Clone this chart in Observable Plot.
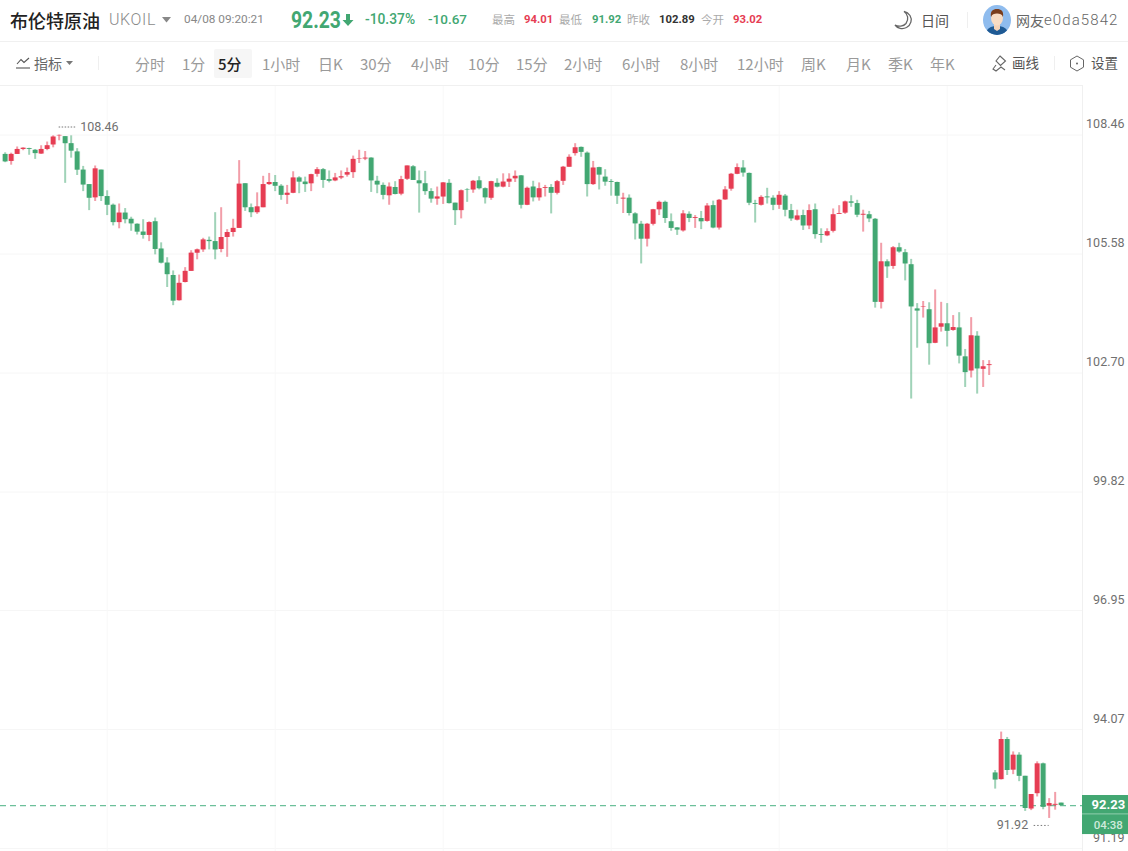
<!DOCTYPE html>
<html lang="zh">
<head>
<meta charset="utf-8">
<script src="https://cdn.jsdelivr.net/npm/d3@7"></script>
<script src="https://cdn.jsdelivr.net/npm/@observablehq/plot@0.6"></script>
<style>
html,body{margin:0;padding:0;background:#fff;overflow:hidden;width:1128px;height:851px}
#head{position:relative;height:85px;width:1128px;font-family:"Noto Sans CJK SC","Noto Sans",sans-serif;overflow:hidden}
#head span{position:absolute;white-space:nowrap;line-height:1;transform:translateY(-50%)}
#head .num{font-family:Roboto,sans-serif}
#head .line{position:absolute;left:0;width:1128px;height:1px;background:#f0f0f0}
#head .sep{position:absolute;width:1px;background:#efefef}
#head svg{position:absolute}
#head .tab{font-size:15px;color:#9a9a9a;top:63px}
#head .lab{font-size:11.5px;color:#aaa;top:20px}
#head .val{font-family:Roboto,sans-serif;font-size:11.3px;font-weight:700;top:20px}
#chart{display:block;height:766px}
</style>
</head>
<body>
<div id="head"></div>
<div id="chart"></div>
<script>
const opens = [
107.99,107.82,107.99,108.11,108.13,108.09,108.00,108.11,108.22,108.44,
108.42,108.25,108.05,107.61,107.26,106.94,107.61,106.97,106.76,106.34,
106.57,106.42,106.30,106.11,106.03,106.36,105.70,105.36,105.06,104.45,
104.89,105.16,105.60,105.68,105.91,105.88,105.69,105.98,106.10,106.20,
107.28,106.70,106.58,106.70,107.26,107.31,107.22,107.00,107.05,107.42,
107.32,107.28,107.51,107.62,107.38,107.35,107.42,107.49,107.55,107.88,
107.88,107.90,107.34,107.24,106.99,107.19,107.03,107.39,107.69,107.35,
107.28,107.09,106.91,106.96,107.29,106.81,106.63,107.13,107.13,107.35,
107.16,106.93,107.29,107.20,107.32,107.40,107.47,106.76,107.20,106.94,
107.17,107.19,107.05,107.34,107.68,108.01,108.16,108.02,107.26,107.67,
107.44,107.33,107.31,106.91,106.93,106.55,106.30,105.94,106.30,106.65,
106.83,106.36,106.21,106.14,106.54,106.44,106.44,106.37,106.75,106.21,
106.89,107.15,107.51,107.66,107.53,106.80,106.76,106.96,106.93,106.76,
106.98,106.63,106.40,106.51,106.26,106.65,106.05,106.02,106.13,106.54,
106.57,106.84,106.80,106.52,106.53,106.42,104.41,105.39,105.28,105.73,
105.61,105.32,104.25,104.29,104.23,103.42,103.81,103.89,103.73,103.79,
103.09,102.75,103.59,102.79,102.88,93.02,92.86,93.83,93.09,93.45,
92.94,92.15,92.52,93.24,92.22,92.24,92.29];
const closes = [
107.81,107.99,108.11,108.14,108.11,108.01,108.11,108.20,108.41,108.45,
108.25,108.07,107.61,107.25,106.93,107.64,106.97,106.76,106.34,106.57,
106.41,106.31,106.11,106.03,106.34,105.69,105.36,105.08,104.44,104.87,
105.16,105.60,105.68,105.92,105.88,105.68,105.98,106.10,106.20,107.27,
106.70,106.58,106.72,107.26,107.31,107.22,107.00,107.05,107.42,107.32,
107.26,107.50,107.62,107.36,107.34,107.42,107.45,107.55,107.87,107.89,
107.90,107.35,107.25,107.00,107.20,107.02,107.38,107.71,107.36,107.28,
107.09,106.91,106.96,107.30,106.80,106.63,107.11,107.12,107.34,107.16,
106.94,107.33,107.20,107.32,107.39,107.46,106.76,107.17,106.94,107.16,
107.19,107.05,107.33,107.68,107.92,108.15,108.04,107.26,107.66,107.49,
107.32,107.31,106.98,106.93,106.56,106.31,105.94,106.30,106.65,106.83,
106.44,106.20,106.16,106.55,106.44,106.46,106.36,106.74,106.21,106.88,
107.13,107.51,107.67,107.54,106.81,106.78,106.95,106.94,106.76,107.00,
106.64,106.43,106.50,106.26,106.63,106.05,106.03,106.12,106.53,106.56,
106.84,106.81,106.52,106.54,106.43,104.41,105.39,105.27,105.73,105.63,
105.34,104.30,104.20,104.30,103.41,103.79,103.89,103.71,103.80,103.11,
102.71,103.60,102.80,102.85,102.90,92.85,93.83,93.08,93.45,92.94,
92.16,92.50,93.24,92.19,92.28,92.26,92.23];
const highs = [
108.03,108.02,108.17,108.15,108.14,108.11,108.20,108.29,108.44,108.46,
108.42,108.44,108.13,107.70,107.26,107.71,107.61,107.11,106.79,106.79,
106.68,106.47,106.31,106.41,106.36,106.45,105.85,105.49,105.17,105.07,
105.25,105.66,105.70,105.96,105.99,106.58,106.70,106.17,106.42,107.84,
107.28,106.79,107.06,107.46,107.53,107.48,107.26,107.24,107.57,107.45,
107.44,107.51,107.67,107.65,107.59,107.53,107.59,107.66,107.95,108.09,
108.06,107.91,107.46,107.30,107.30,107.33,107.46,107.71,107.72,107.59,
107.58,107.16,107.20,107.31,107.38,106.81,107.13,107.16,107.36,107.45,
107.18,107.34,107.40,107.52,107.52,107.59,107.48,107.20,107.34,107.30,
107.24,107.26,107.36,107.70,107.98,108.25,108.17,108.05,107.82,107.68,
107.62,107.38,107.32,107.05,107.01,106.58,106.37,106.32,106.66,106.86,
106.86,106.55,106.22,106.63,106.60,106.51,106.61,106.80,106.86,106.90,
107.21,107.53,107.76,107.84,107.54,106.88,106.99,107.17,106.99,107.09,
107.02,106.78,106.64,106.64,106.77,106.79,106.19,106.19,106.67,106.75,
106.86,106.99,106.88,106.64,106.61,106.44,105.84,105.44,105.76,105.84,
105.69,105.45,104.38,104.43,104.40,104.71,104.41,104.38,104.09,104.16,
103.27,104.04,103.70,103.00,103.00,93.08,94.01,93.88,93.53,93.51,
92.94,92.50,93.29,93.26,92.40,92.55,92.29];
const lows = [
107.79,107.73,107.99,108.08,107.97,107.87,107.99,108.08,108.15,108.32,
107.29,107.90,107.48,107.09,106.63,106.85,106.85,106.51,106.26,106.19,
106.31,106.13,106.04,105.94,105.88,105.56,105.34,104.77,104.33,104.44,
104.88,105.16,105.44,105.62,105.68,105.44,105.61,105.50,105.99,106.20,
106.61,106.46,106.54,106.70,107.24,107.09,106.88,106.78,107.04,107.04,
107.07,107.09,107.44,107.17,107.30,107.33,107.38,107.44,107.41,107.77,
107.84,107.07,107.04,106.89,106.76,107.01,106.99,107.36,107.36,106.57,
107.00,106.81,106.76,106.78,106.79,106.27,106.43,106.83,107.05,107.13,
106.79,106.88,107.18,107.18,107.19,107.31,106.67,106.75,106.84,106.86,
106.96,106.55,107.01,107.24,107.68,107.95,107.92,106.96,107.24,107.13,
107.22,106.98,106.78,106.56,106.50,105.92,105.34,105.75,106.26,106.51,
106.32,106.13,106.03,106.11,106.34,106.20,106.17,106.35,106.19,106.16,
106.88,107.10,107.50,107.44,106.75,106.33,106.74,106.79,106.63,106.66,
106.48,106.37,106.38,106.15,106.17,105.94,105.84,106.00,106.09,106.54,
106.54,106.71,106.46,106.11,106.34,104.27,104.25,104.99,105.21,105.60,
104.93,102.07,103.30,104.03,102.89,103.41,103.69,103.33,103.71,102.92,
102.35,102.58,102.19,102.35,102.64,92.63,92.85,92.96,92.98,92.81,
92.09,92.11,92.44,92.13,91.92,92.12,92.23];

const yTicks = [108.46,105.58,102.70,99.82,96.95,94.07,91.19];
const xGridIndex = [17,45,73,101,129,157];
const lastPrice = 92.23;
const countdown = "04:38";
const highPrice = 108.46, highIndex = 9;
const lowPrice = 91.92, lowIndex = 174;

const tabs = [["分时",135],["1分",182],["5分",218],["1小时",262],["日K",318],["30分",360],["4小时",411],["10分",468],["15分",516],["2小时",564],["6小时",622],["8小时",680],["12小时",737],["周K",801],["月K",846],["季K",888],["年K",930]];
const quotes = [["最高",492,"94.01",524,"#e63d53"],["最低",559,"91.92",592,"#42a772"],["昨收",627,"102.89",659,"#333"],["今开",701,"93.02",733,"#e63d53"]];

const GREEN = "#42a772", RED = "#e63d53";
const candles = opens.map((o,i)=>({i,o,c:closes[i],h:highs[i],l:lows[i],col:closes[i]>=o?RED:GREEN}));

// header
const head = document.getElementById("head");
let h = `<div class="line" style="top:41px"></div>`;
const sp = (txt,left,top,style,cls="") => `<span class="${cls}" style="left:${left}px;top:${top}px;${style}">${txt}</span>`;
h += sp("布伦特原油",10,19.5,"font-size:18px;font-weight:500;color:#222");
h += sp("UKOIL",109,20,"font-size:16px;color:#8a8a8a;font-family:Roboto;font-weight:300;letter-spacing:.6px");
h += `<svg style="left:162px;top:17px" width="10" height="6"><path d="M0 0H9L4.5 5.5Z" fill="#888"/></svg>`;
h += sp("04/08 09:20:21",184,20,"font-size:11.8px;color:#888","num");
h += sp("92.23",291,20,"font-size:23px;font-weight:700;color:"+GREEN+";transform:translateY(-50%) scaleX(.84);transform-origin:left center","num");
h += `<svg style="left:342px;top:14px" width="12" height="13"><path d="M4 0H8V6H11.5L6 12L.5 6H4Z" fill="${GREEN}"/></svg>`;
h += sp("-10.37%",365,20,"font-size:13.8px;font-weight:500;color:"+GREEN,"num");
h += sp("-10.67",428,20,"font-size:13.5px;font-weight:500;color:"+GREEN,"num");
for (const [a,ax,b,bx,c] of quotes){
  h += sp(a,ax,20,"","lab");
  h += sp(b,bx,20,"color:"+c,"val");
}
h += `<svg style="left:892px;top:9px" width="22" height="22"><path d="M12 2.5C16 5 17 10.5 14 14.5C11.5 17.5 6.5 18 3 16C5.5 19.5 10.5 20.5 14.5 18.5C19 16 20.5 10.5 18 6.5C16.5 4.3 14.5 3 12 2.5Z" fill="none" stroke="#666" stroke-width="1.3"/></svg>`;
h += sp("日间",921,20,"font-size:14px;color:#555");
h += `<div class="sep" style="left:967px;top:12px;height:16px"></div>`;
h += `<svg style="left:983px;top:5px" width="28" height="30" viewBox="0 0 28 30"><defs><clipPath id="av"><ellipse cx="14" cy="15" rx="14" ry="15"/></clipPath></defs><g clip-path="url(#av)"><rect width="28" height="30" fill="#8fbcee"/><path d="M3 30C3 23 8 21 14 21C20 21 25 23 25 30Z" fill="#1f5a94"/><path d="M11 19H17V24L14 26L11 24Z" fill="#f5d3b8"/><ellipse cx="14" cy="13" rx="6" ry="7.5" fill="#f8dcc4"/><path d="M8 12C7 6 10 4 14 4C18 4 21 6 20 12C19 9 17 8.500 14 8.500C11 8.500 9 9 8 12Z" fill="#7a3d1c"/></g></svg>`;
h += sp("网友",1016,20,"font-size:14px;color:#666");
h += sp("e0da5842",1044,20,"font-size:15px;color:#666;font-family:Roboto;font-weight:300;letter-spacing:1.1px");

h += `<svg style="left:16px;top:56px" width="15" height="14"><path d="M1 8L5 3.500L8 6.500L13 2" fill="none" stroke="#555" stroke-width="1.100"/><path d="M0 12H14" stroke="#555" stroke-width="1.100"/></svg>`;
h += sp("指标",34,63,"font-size:14px;color:#666");
h += `<svg style="left:66px;top:61px" width="8" height="5"><path d="M0 0H7L3.500 4Z" fill="#777"/></svg>`;
h += `<div class="sep" style="left:98px;top:56px;height:14px"></div>`;
h += `<div style="position:absolute;left:214px;top:49px;width:38px;height:29px;background:#f6f6f6;border-radius:2px"></div>`;
for (const [t,x] of tabs){
  const active = t==="5分";
  h += sp(t,x,63,active?"color:#222;font-weight:500":"","tab");
}
h += `<svg style="left:991px;top:54px" width="18" height="19"><path d="M9 2L14.500 7L9.500 11.500L5 7Z M5 11L2 15L5 17L10 13L14 16" fill="none" stroke="#666" stroke-width="1.100"/></svg>`;
h += sp("画线",1012,63,"font-size:13.5px;color:#555");
h += `<div class="sep" style="left:1054px;top:56px;height:14px"></div>`;
h += `<svg style="left:1069px;top:55px" width="16" height="17"><path d="M8 1L14.500 4.800V12.200L8 16L1.500 12.200V4.800Z" fill="none" stroke="#666" stroke-width="1"/><circle cx="8" cy="8.500" r="1" fill="#666"/></svg>`;
h += sp("设置",1091,63,"font-size:13.5px;color:#555");
head.innerHTML = h;

const tagX1 = 179.555, tagX2 = 187.3;
const plot = Plot.plot({
  width: 1128, height: 766,
  marginLeft: 0, marginRight: 46, marginTop: 0, marginBottom: 0,
  x: {domain: [-0.778, 179.555], axis: null},
  y: {domain: [91.12, 109.658]},
  style: {background: "transparent", fontFamily: "Roboto, sans-serif", fontSize: "12.5px", color: "#707070"},
  marks: [
    Plot.gridY(yTicks, {stroke: "#f6f6f6", strokeOpacity: 1}),
    Plot.gridX(xGridIndex, {stroke: "#f8f8f8", strokeOpacity: 1}),
    Plot.frame({stroke: "#f0f0f0", anchor: "top"}),
    Plot.frame({stroke: "#f0f0f0", anchor: "right"}),
    Plot.axisY(yTicks, {anchor: "right", tickSize: 0, textAnchor: "end", dx: 33, dy: -11, tickFormat: d3.format(".2f"), label: null, fill: "#707070"}),
    Plot.ruleY([lastPrice], {stroke: "#6cc09a", strokeWidth: 1.2, strokeDasharray: "6,4"}),
    Plot.ruleX(candles, {x: "i", y1: "l", y2: "h", stroke: "col", strokeWidth: 2, strokeOpacity: 0.5}),
    Plot.ruleX(candles, {x: "i", y1: "o", y2: "c", stroke: "col", strokeWidth: 6, strokeOpacity: 0.3}),
    Plot.ruleX(candles, {x: "i", y1: "o", y2: "c", stroke: "col", strokeWidth: 4.6}),
    // extreme labels
    Plot.ruleY([highPrice], {x1: highIndex, x2: highIndex + 3, dy: -8, stroke: "#777", strokeDasharray: "1.5,1.5"}),
    Plot.text([highPrice], {x: highIndex + 3, y: d => d, text: d => d.toFixed(2), dx: 3, dy: -8, textAnchor: "start", fill: "#707070"}),
    Plot.ruleY([lowPrice], {x1: lowIndex - 2.5, x2: lowIndex, dy: 7, stroke: "#777", strokeDasharray: "1.5,2"}),
    Plot.text([lowPrice], {x: lowIndex - 3, y: d => d, text: d => d.toFixed(2), dx: -3, dy: 7, textAnchor: "end", fill: "#707070"}),
    // price tag
    Plot.rectY([lastPrice], {x1: tagX1, x2: tagX2, y1: 92.475, y2: 91.53, fill: GREEN}),
    Plot.ruleY([92.03], {x1: tagX1, x2: tagX2, stroke: "#8fcfae"}),
    Plot.text([lastPrice], {x: tagX1 + 4.3, y: 92.26, text: d => d.toFixed(2), fill: "white", fontWeight: 700, fontSize: 13}),
    Plot.text([countdown], {x: tagX1 + 4.3, y: 91.75, text: d => d, fill: "#cfeadb", fontWeight: 500, fontSize: 11.5})
  ]
});
plot.style.overflow = "visible";
document.getElementById("chart").appendChild(plot);
</script>
</body>
</html>
